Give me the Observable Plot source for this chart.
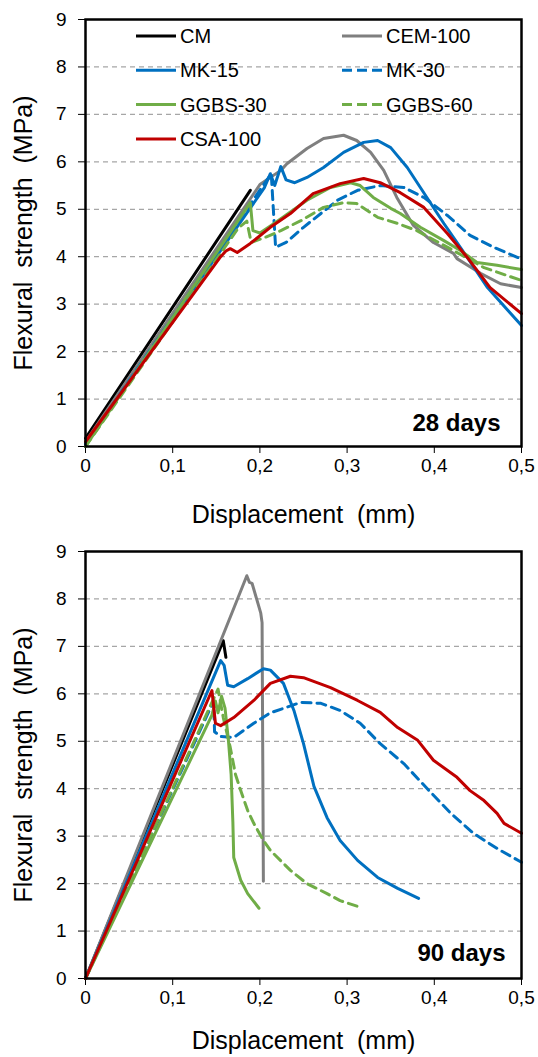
<!DOCTYPE html>
<html>
<head>
<meta charset="utf-8">
<script src="https://cdn.jsdelivr.net/npm/d3@7"></script>
<script src="https://cdn.jsdelivr.net/npm/@observablehq/plot@0.6"></script>
<style>
  body { margin: 0; background: white; }
  #wrap { position: relative; width: 538px; height: 1057px; }
  #wrap svg { display: block; }
  svg text { white-space: pre; }
  #legend { position: absolute; left: 0; top: 0; pointer-events: none; }
</style>
</head>
<body>
<div id="wrap">
  <div id="top"></div>
  <div id="bottom"></div>
</div>
<script>
// ---------- data ----------
const seriesNames = ["CM", "CEM-100", "MK-15", "MK-30", "GGBS-30", "GGBS-60", "CSA-100"];
const xTicks = [0, 0.1, 0.2, 0.3, 0.4, 0.5];
const yTicks = [0, 1, 2, 3, 4, 5, 6, 7, 8, 9];
const gridLines = [1, 2, 3, 4, 5, 6, 7, 8];
const dayLabels = ["28 days", "90 days"];
const xTitle = "Displacement  (mm)";
const yTitle = "Flexural  strength  (MPa)";

// 28 days: [displacement (mm), flexural strength (MPa)]
const d28_CM = [[0, 0.17], [0.189, 5.4]];
const d28_CEM100 = [[0, 0.1], [0.2, 5.52], [0.224, 5.82], [0.231, 5.96], [0.254, 6.28], [0.273, 6.49], [0.296, 6.56], [0.311, 6.45], [0.327, 6.2], [0.342, 5.82], [0.357, 5.25], [0.376, 4.66], [0.399, 4.30], [0.422, 4.07], [0.426, 3.96], [0.453, 3.65], [0.476, 3.43], [0.5, 3.35]];
const d28_MK15 = [[0, 0.05], [0.205, 5.45], [0.212, 5.75], [0.217, 5.5], [0.224, 5.9], [0.23, 5.62], [0.24, 5.56], [0.254, 5.67], [0.273, 5.88], [0.296, 6.2], [0.319, 6.41], [0.335, 6.45], [0.35, 6.3], [0.369, 5.88], [0.384, 5.46], [0.411, 4.70], [0.438, 3.98], [0.461, 3.35], [0.5, 2.55]];
const d28_MK30 = [[0, 0.05], [0.213, 5.75], [0.218, 4.2], [0.23, 4.3], [0.25, 4.62], [0.289, 5.19], [0.312, 5.40], [0.338, 5.50], [0.365, 5.46], [0.388, 5.25], [0.415, 4.87], [0.441, 4.45], [0.468, 4.20], [0.5, 3.95]];
const d28_GGBS30 = [[0, 0], [0.189, 5.14], [0.192, 4.55], [0.2, 4.5], [0.212, 4.65], [0.224, 4.8], [0.254, 5.19], [0.281, 5.46], [0.304, 5.56], [0.315, 5.50], [0.33, 5.25], [0.35, 5.02], [0.361, 4.91], [0.384, 4.62], [0.411, 4.34], [0.43, 4.13], [0.449, 3.88], [0.472, 3.82], [0.5, 3.73]];
const d28_GGBS60 = [[0, 0], [0.175, 4.6], [0.185, 4.75], [0.19, 4.3], [0.205, 4.4], [0.224, 4.55], [0.247, 4.76], [0.273, 5.04], [0.296, 5.14], [0.311, 5.12], [0.335, 4.83], [0.358, 4.70], [0.38, 4.55], [0.42, 4.15], [0.457, 3.77], [0.5, 3.5]];
const d28_CSA100 = [[0, 0.1], [0.155, 4.0], [0.161, 4.12], [0.166, 4.17], [0.174, 4.09], [0.189, 4.28], [0.212, 4.62], [0.235, 4.91], [0.261, 5.33], [0.292, 5.54], [0.319, 5.65], [0.338, 5.56], [0.361, 5.35], [0.388, 5.04], [0.415, 4.49], [0.438, 3.98], [0.464, 3.35], [0.5, 2.80]];

// 90 days
const d90_CM = [[0, 0], [0.158, 7.12], [0.161, 6.77]];
const d90_CEM100 = [[0, 0], [0.185, 8.49], [0.188, 8.35], [0.191, 8.33], [0.201, 7.7], [0.2025, 7.5], [0.204, 2.05]];
const d90_MK15 = [[0, 0], [0.155, 6.70], [0.159, 6.6], [0.163, 6.18], [0.17, 6.15], [0.186, 6.32], [0.204, 6.53], [0.212, 6.5], [0.227, 6.22], [0.239, 5.65], [0.25, 4.95], [0.262, 4.05], [0.277, 3.39], [0.292, 2.91], [0.312, 2.49], [0.335, 2.13], [0.358, 1.90], [0.382, 1.69]];
const d90_MK30 = [[0, 0], [0.147, 5.85], [0.148, 5.2], [0.155, 5.1], [0.17, 5.08], [0.193, 5.38], [0.212, 5.6], [0.247, 5.82], [0.27, 5.80], [0.292, 5.65], [0.315, 5.38], [0.338, 4.95], [0.365, 4.53], [0.392, 4.0], [0.419, 3.48], [0.445, 3.06], [0.472, 2.74], [0.5, 2.45]];
const d90_GGBS30 = [[0, 0], [0.145, 5.55], [0.149, 5.85], [0.152, 5.6], [0.156, 5.95], [0.16, 5.7], [0.164, 5.0], [0.167, 4.3], [0.169, 3.3], [0.17, 2.55], [0.178, 2.07], [0.186, 1.79], [0.199, 1.48]];
const d90_GGBS60 = [[0, 0], [0.152, 6.1], [0.158, 5.5], [0.166, 4.87], [0.172, 4.3], [0.178, 3.96], [0.186, 3.54], [0.193, 3.27], [0.204, 2.91], [0.212, 2.7], [0.235, 2.28], [0.254, 2.0], [0.277, 1.79], [0.292, 1.64], [0.312, 1.52]];
const d90_CSA100 = [[0, 0], [0.145, 6.07], [0.149, 5.38], [0.155, 5.33], [0.17, 5.50], [0.193, 5.86], [0.212, 6.22], [0.235, 6.37], [0.25, 6.34], [0.281, 6.13], [0.312, 5.86], [0.338, 5.61], [0.358, 5.29], [0.381, 5.02], [0.399, 4.60], [0.426, 4.24], [0.441, 3.96], [0.457, 3.75], [0.472, 3.48], [0.48, 3.27], [0.5, 3.06]];

// ---------- styles ----------
const colors = {"CM": "#000000", "CEM-100": "#7f7f7f", "MK-15": "#0070c0", "MK-30": "#0070c0", "GGBS-30": "#70ad47", "GGBS-60": "#70ad47", "CSA-100": "#c00000"};
const dashed = {"MK-30": true, "GGBS-60": true};
const FONT = "'Liberation Sans', Arial, sans-serif";

const series28 = {"CM": d28_CM, "CEM-100": d28_CEM100, "MK-15": d28_MK15, "MK-30": d28_MK30, "GGBS-30": d28_GGBS30, "GGBS-60": d28_GGBS60, "CSA-100": d28_CSA100};
const series90 = {"CM": d90_CM, "CEM-100": d90_CEM100, "MK-15": d90_MK15, "MK-30": d90_MK30, "GGBS-30": d90_GGBS30, "GGBS-60": d90_GGBS60, "CSA-100": d90_CSA100};

const fmtX = d => d === 0 ? "0" : d3.format(".1f")(d).replace(".", ",");

function panel(series, day, opt) {
  const lines = seriesNames.map(name => Plot.line(
    series[name].map(([x, y]) => ({x, y})),
    {x: "x", y: "y", stroke: colors[name], strokeWidth: 3,
     strokeDasharray: dashed[name] ? "9,6" : undefined, strokeLinejoin: "round"}
  ));
  return Plot.plot({
    width: 538,
    height: opt.height,
    marginTop: opt.mt,
    marginBottom: opt.mb,
    marginLeft: 85,
    marginRight: 17,
    style: {fontFamily: FONT, fontSize: "19px", color: "black", background: "white", overflow: "visible"},
    x: {domain: [0, 0.5], ticks: xTicks, tickFormat: fmtX, tickSize: 7, tickPadding: 5, label: null},
    y: {domain: [0, 9], ticks: yTicks, tickSize: 7, tickPadding: 12, label: null},
    marks: [
      Plot.ruleY(gridLines, {stroke: "#a6a6a6", strokeWidth: 1.3, strokeDasharray: "5,4"}),
      ...lines,
      Plot.frame({stroke: "black", strokeWidth: 2.5}),
      Plot.text([day], {text: d => d, frameAnchor: "bottom-right", textAnchor: "end", lineAnchor: "bottom",
        dx: opt.dayDx, dy: opt.dayDy, fontWeight: "bold", fontSize: 24}),
      Plot.text([xTitle], {text: d => d, frameAnchor: "bottom", textAnchor: "middle", lineAnchor: "bottom", dy: opt.xtDy, fontSize: 25}),
      Plot.text([yTitle], {text: d => d, frameAnchor: "left", textAnchor: "middle", rotate: -90, lineAnchor: "middle", dx: -62, fontSize: 25})
    ]
  });
}

document.getElementById("top").append(panel(series28, dayLabels[0], {height: 530, mt: 19, mb: 84, dayDx: -21, dayDy: -16, xtDy: 76}));
document.getElementById("bottom").append(panel(series90, dayLabels[1], {height: 527, mt: 21, mb: 79, dayDx: -16, dayDy: -18, xtDy: 70}));

// tick stroke width
d3.selectAll("#wrap svg g[aria-label$='axis'] path, #wrap svg g[aria-label$='axis'] line").attr("stroke-width", 1.5);

// ---------- legend (top panel) ----------
const legendCols = [136, 342];
const legendRows = [36, 70.3, 104.6, 138.9];
const legendOrder = [["CM", "CEM-100"], ["MK-15", "MK-30"], ["GGBS-30", "GGBS-60"], ["CSA-100"]];
const leg = d3.select("#wrap").append("svg").attr("id", "legend").attr("width", 538).attr("height", 170);
legendOrder.forEach((row, r) => row.forEach((name, c) => {
  const x = legendCols[c], y = legendRows[r];
  leg.append("line").attr("x1", x).attr("x2", x + 40).attr("y1", y).attr("y2", y)
    .attr("stroke", colors[name]).attr("stroke-width", 3)
    .attr("stroke-dasharray", dashed[name] ? "10,5" : null);
  leg.append("text").attr("x", x + 44).attr("y", y).attr("dy", "0.35em")
    .attr("font-family", FONT).attr("font-size", 20).attr("fill", "black").text(name);
}));
</script>
</body>
</html>
